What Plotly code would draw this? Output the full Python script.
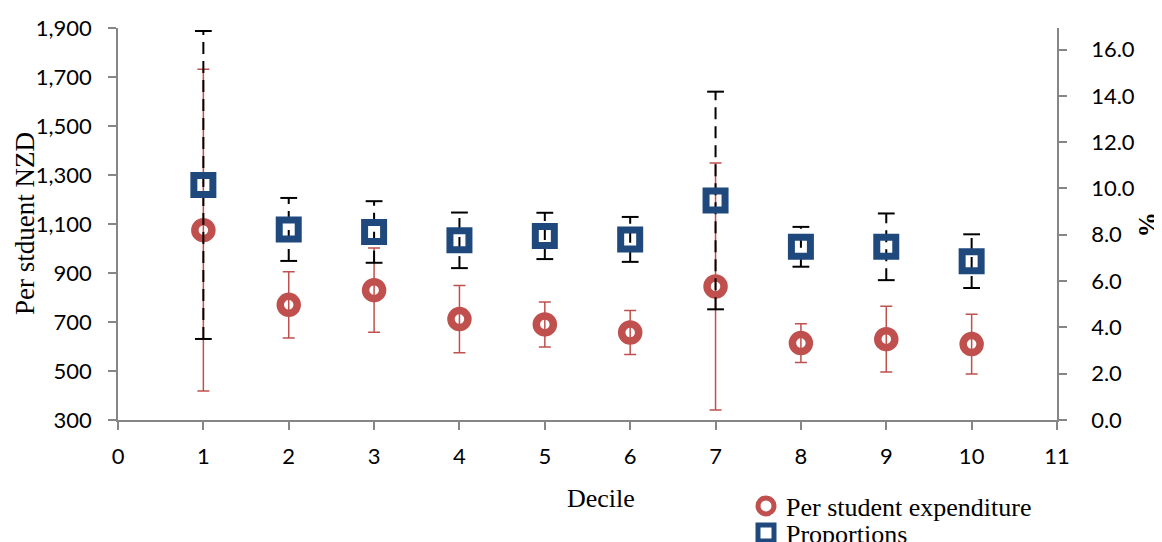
import plotly.graph_objects as go

deciles = [1, 2, 3, 4, 5, 6, 7, 8, 9, 10]
expenditure = [1075, 770, 830, 712, 690, 657, 845, 614, 630, 610]
expenditure_err = [657, 135, 172, 137, 92, 90, 504, 79, 134, 122]
proportions = [10.15, 8.23, 8.12, 7.76, 7.95, 7.80, 9.48, 7.48, 7.48, 6.86]
proportions_err = [6.65, 1.36, 1.33, 1.20, 1.00, 0.97, 4.70, 0.86, 1.44, 1.16]

RED = "#C0504D"
BLUE = "#1F497D"
SERIF = "Liberation Serif"
SANS = "Lato"

# page body has an 8px margin, so the figure is sized/offset accordingly
FIG_W, FIG_H = 1154, 534

fig = go.Figure()

fig.add_trace(go.Scatter(
    x=deciles, y=expenditure, mode="markers", name="Per student expenditure",
    marker=dict(symbol="circle-open", size=17, color=RED, line=dict(width=7.5, color=RED)),
    error_y=dict(type="data", array=expenditure_err, visible=True, color=RED,
                 thickness=1.5, width=6),
    yaxis="y", showlegend=True, legend="legend",
))

ex, ey, cx, cy = [], [], [], []
for d, p, e in zip(deciles, proportions, proportions_err):
    ex += [d, d, None]
    ey += [p - e, p + e, None]
    cx += [d, d]
    cy += [p - e, p + e]
fig.add_trace(go.Scatter(
    x=ex, y=ey, mode="lines", line=dict(color="black", width=2, dash="12px,7px"),
    yaxis="y2", showlegend=False, hoverinfo="skip",
))
fig.add_trace(go.Scatter(
    x=cx, y=cy, mode="markers",
    marker=dict(symbol="line-ew", size=12, line=dict(width=2, color="black")),
    yaxis="y2", showlegend=False, hoverinfo="skip",
))

fig.add_trace(go.Scatter(
    x=deciles, y=proportions, mode="markers", name="Proportions",
    marker=dict(symbol="square-open", size=19, color=BLUE, line=dict(width=7, color=BLUE)),
    yaxis="y2", showlegend=True, legend="legend2",
))

axis_line = "#868686"
legend_common = dict(xref="container", yref="container", xanchor="left", yanchor="middle",
                     font=dict(family=SERIF, size=26, color="black"),
                     itemwidth=30, bgcolor="rgba(0,0,0,0)", borderwidth=0)
fig.update_layout(
    width=FIG_W, height=FIG_H,
    margin=dict(l=110, r=105, t=20, b=122, autoexpand=False),
    paper_bgcolor="white", plot_bgcolor="white",
    font=dict(family=SANS, size=22, color="black"),
    showlegend=True,
    legend=dict(x=738 / FIG_W, y=1 - 498 / FIG_H, **legend_common),
    legend2=dict(x=738 / FIG_W, y=1 - 525 / FIG_H, **legend_common),
    xaxis=dict(range=[0, 11], dtick=1, tick0=0, showgrid=False, zeroline=False,
               showline=True, linecolor=axis_line, linewidth=1.5,
               ticks="outside", ticklen=8, tickcolor=axis_line, tickwidth=1.5,
               ticklabelstandoff=8,
               tickfont=dict(family=SANS, size=22)),
    yaxis=dict(range=[300, 1900], dtick=200, tick0=300, tickformat=",d",
               showgrid=False, zeroline=False,
               showline=True, linecolor=axis_line, linewidth=1.5,
               ticks="outside", ticklen=8, tickcolor=axis_line, tickwidth=1.5,
               ticklabelstandoff=12,
               tickfont=dict(family=SANS, size=22)),
    yaxis2=dict(range=[0, 16.93], dtick=2, tick0=0, tickformat=".1f",
                overlaying="y", side="right", showgrid=False, zeroline=False,
                showline=True, linecolor=axis_line, linewidth=1.5,
                ticks="outside", ticklen=8, tickcolor=axis_line, tickwidth=1.5,
                ticklabelstandoff=20,
                tickfont=dict(family=SANS, size=22)),
    annotations=[
        dict(text="Per stduent NZD", xref="paper", yref="paper", x=-0.099, y=0.5,
             xanchor="center", yanchor="middle", textangle=-90, showarrow=False,
             font=dict(family=SERIF, size=27, color="black")),
        dict(text="<b>%</b>", xref="paper", yref="paper", x=1.097, y=0.5,
             xanchor="center", yanchor="middle", textangle=90, showarrow=False,
             font=dict(family=SERIF, size=25, color="black")),
        dict(text="Decile", xref="paper", yref="paper", x=0.514, y=-0.2,
             xanchor="center", yanchor="middle", showarrow=False,
             font=dict(family=SERIF, size=26, color="black")),
    ],
)

fig.write_html("out.html")
